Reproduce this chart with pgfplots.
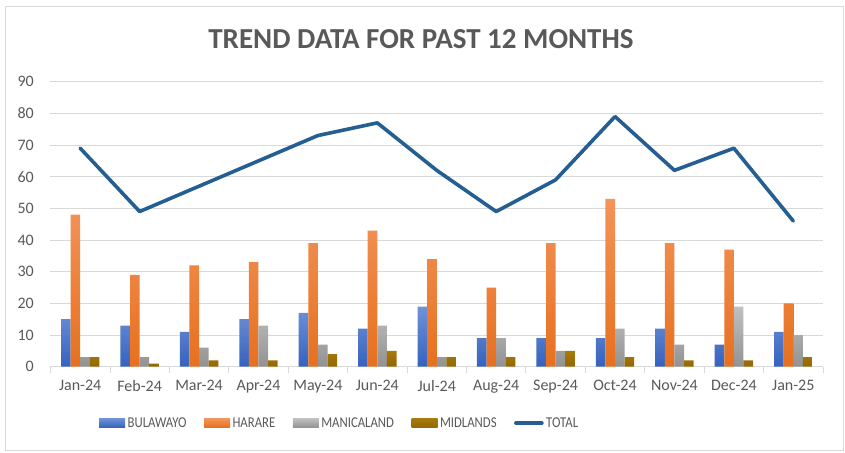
\documentclass[border=0pt]{standalone}
\usepackage{pgfplots}
\pgfplotsset{compat=1.18}
\usepackage{fontspec}
\setmainfont{Carlito}
\newfontfamily\legendfont[FakeStretch=0.85]{Carlito}
\definecolor{gridgray}{HTML}{D9D9D9}
\definecolor{textgray}{HTML}{595959}
\definecolor{bultop}{HTML}{6F92D9}
\definecolor{bulbot}{HTML}{3562BE}
\definecolor{hartop}{HTML}{F3945A}
\definecolor{harbot}{HTML}{E7701E}
\definecolor{mantop}{HTML}{C0C0C0}
\definecolor{manbot}{HTML}{929292}
\definecolor{midtop}{HTML}{A77A0C}
\definecolor{midbot}{HTML}{946800}
\definecolor{totcol}{HTML}{255E91}

\pgfplotstableread{
x bul har man mid tot
0 15 48 3 3 69
1 13 29 3 1 49
2 11 32 6 2 57
3 15 33 13 2 65
4 17 39 7 4 73
5 12 43 13 5 77
6 19 34 3 3 62
7 9 25 9 3 49
8 9 39 5 5 59
9 9 53 12 3 79
10 12 39 7 2 62
11 7 37 19 2 69
12 11 20 10 3 46
}\datatable

\begin{document}
\begin{tikzpicture}
\path (0bp,0bp) rectangle (845bp,453bp);
\draw[color=gridgray, line width=1bp] (5bp,2bp) rectangle (843bp,446bp);
\node[anchor=base, font=\fontsize{29bp}{32bp}\selectfont\bfseries, text=textgray, inner sep=0pt] at (421bp,404.7bp) {TREND DATA FOR PAST 12 MONTHS};
\begin{axis}[
  at={(50.5bp,86.3bp)}, anchor=south west,
  scale only axis, width=772.5bp, height=285bp,
  ybar=0pt, bar width=9.6bp,
  xmin=-0.5, xmax=12.5, ymin=0, ymax=90,
  xtick={0,...,12},
  xticklabels={Jan-24,Feb-24,Mar-24,Apr-24,May-24,Jun-24,Jul-24,Aug-24,Sep-24,Oct-24,Nov-24,Dec-24,Jan-25},
  minor xtick={-0.5,0.5,...,12.5},
  ytick={0,10,...,90},
  major tick length=0pt,
  minor tick length=6bp,
  tick align=outside,
  xtick pos=bottom, ytick pos=left,
  minor tick style={draw=gridgray, line width=0.8bp},
  axis lines*=left,
  y axis line style={draw=none},
  x axis line style={draw=gridgray, line width=0.8bp},
  ymajorgrids,
  grid style={draw=gridgray, line width=0.8bp},
  /pgf/number format/assume math mode=true,
  tick label style={font=\fontsize{16bp}{18bp}\selectfont, text=textgray},
  yticklabel style={anchor=east, inner sep=0pt, xshift=-16.5bp},
  xticklabel style={anchor=north, inner sep=0pt, yshift=-13bp},
  legend columns=5,
  legend style={at={(axis description cs:0.0628,-0.1975)}, anchor=west, draw=none, fill=none, inner sep=0pt,
    font=\legendfont\fontsize{15bp}{17bp}\selectfont, text=textgray,
    /tikz/every even column/.append style={column sep=15bp},
    nodes={inner sep=2.5bp}},
]
\addplot[draw=none, top color=bultop, bottom color=bulbot,
  legend image code/.code={\path[draw=none, top color=bultop, bottom color=bulbot] (0bp,-4.5bp) rectangle (26bp,4.5bp);}]
  table[x=x, y=bul] {\datatable};
\addlegendentry{BULAWAYO}
\addplot[draw=none, top color=hartop, bottom color=harbot,
  legend image code/.code={\path[draw=none, top color=hartop, bottom color=harbot] (0bp,-4.5bp) rectangle (26bp,4.5bp);}]
  table[x=x, y=har] {\datatable};
\addlegendentry{HARARE}
\addplot[draw=none, top color=mantop, bottom color=manbot,
  legend image code/.code={\path[draw=none, top color=mantop, bottom color=manbot] (0bp,-4.5bp) rectangle (26bp,4.5bp);}]
  table[x=x, y=man] {\datatable};
\addlegendentry{MANICALAND}
\addplot[draw=none, top color=midtop, bottom color=midbot,
  legend image code/.code={\path[draw=none, top color=midtop, bottom color=midbot] (0bp,-4.5bp) rectangle (26bp,4.5bp);}]
  table[x=x, y=mid] {\datatable};
\addlegendentry{MIDLANDS}
\addplot[sharp plot, draw=totcol, line width=3.6bp, line join=round, line cap=round, mark=none,
  legend image code/.code={\draw[draw=totcol, line width=3.6bp] (0bp,0bp) -- (26bp,0bp);}]
  table[x=x, y=tot] {\datatable};
\addlegendentry{TOTAL}
\end{axis}
\end{tikzpicture}
\end{document}
